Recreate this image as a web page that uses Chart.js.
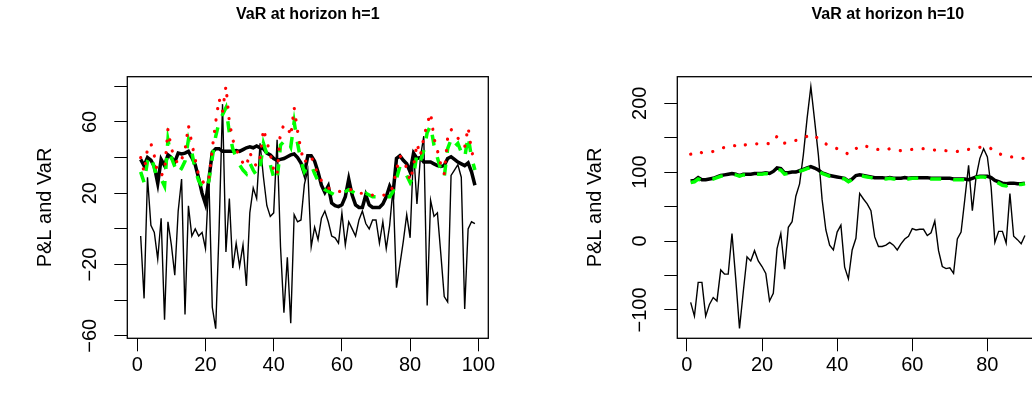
<!DOCTYPE html>
<html>
<head>
<meta charset="utf-8">
<script src="https://cdn.jsdelivr.net/npm/chart.js@4.4.0/dist/chart.umd.min.js"></script>
<style>
  html, body { margin: 0; padding: 0; background: #fff; }
  body { width: 1032px; height: 403px; overflow: hidden; position: relative; }
  .panel { position: absolute; top: 0; width: 550px; height: 403px; }
</style>
</head>
<body>
<div class="panel" style="left:0"><canvas id="c1" width="550" height="403"></canvas></div>
<div class="panel" style="left:550px"><canvas id="c2" width="550" height="403"></canvas></div>
<script>
const FONT = '"Liberation Sans", Arial, Helvetica, sans-serif';
const TICK = 13;

// --- horizon h=1 (99 days) ---
const pnl1 = [-4, -39, 29, 2, -2, -17, 6, -51, 4, -9,
  -26, 10, 28, -48, 13, -4, 0, -4, -2, -11,
  28, -44, -56, 0, 70, -13, 17, -22, -8, -21,
  -9, -32, 9, 23, 17, 48, 29, 13, 7, 9,
  50, -10, -47, -16, -53, 8, 4, 5, 25, 33,
  -10, 1, -6, 6, 10, 4, -4, -5, -8, 9,
  -9, 4, 0, -4, 5, 10, 3, 0, 5, 5,
  -8, 4, -11, 2, 23, -33, -20, -7, 8, -5,
  44, 14, 40, 52, -43, 16, 7, 9, -14, -38,
  -41, 30, 33, 36, 29, -45, 0, 4, 3];
const thick1 = [39, 35.5, 40, 38.5, 35, 25.5, 39, 35.5, 41.5, 40,
  37.5, 42.5, 42, 42.5, 43.5, 40, 36, 28.5, 20, 14,
  28, 43, 45, 45, 43.5, 43.5, 43.5, 43.5, 44, 43.5,
  44.5, 45.5, 46, 45.5, 46.5, 45.5, 45, 42.5, 41.5, 39.5,
  38.5, 39, 39.5, 40.5, 41.5, 42, 40, 37, 31, 41,
  41, 38, 32, 24.5, 20.5, 24, 14.5, 13, 12.5, 13.5,
  18, 28, 19, 13.5, 12, 12, 19, 13.5, 12, 12,
  12, 14, 18, 24, 20, 39.5, 41, 38.5, 36.5, 32,
  42.5, 39.5, 40, 37.5, 37.5, 37.5, 36.5, 35.5, 35, 35.5,
  39.5, 40.5, 39, 37.5, 36.5, 35.5, 37, 32, 24.5];
const dash1 = [32, 26, 38, 41, 34, 28, 28, 24, 50, 40,
  35, 31, 34, 38, 50, 43, 33, 27, 24, 22,
  27, 40, 52, 60, 64, 68, 54, 45, 40, 36,
  33, 31, 37, 33, 30, 34, 48, 42, 36, 29,
  27, 47, 49, 50, 46, 60, 48, 38, 32, 35,
  36, 31, 27, 24, 22, 21, 20, 19, 19, 20,
  21, 22, 21, 20, 19, 19, 20, 19, 18, 18,
  18, 18, 18, 18, 21, 28, 35, 34, 30, 26,
  30, 42, 38, 44, 54, 58, 47, 40, 33, 29,
  45, 50, 46, 48, 43, 40, 52, 40, 33];
const dot1 = [40, 32, 45, 48, 41, 31, 30, 32, 56, 45,
  40, 36, 39, 44, 58, 48, 39, 30, 27, 25,
  28, 45, 60, 73, 66, 80, 60, 50, 45, 40,
  37, 35, 43, 38, 35, 40, 56, 49, 42, 33,
  30, 55, 58, 58, 52, 68, 55, 44, 37, 40,
  41, 35, 31, 27, 24, 23, 22, 21, 21, 21,
  22, 22, 22, 21, 20, 20, 20, 19, 19, 19,
  19, 19, 19, 20, 24, 33, 41, 39, 34, 27,
  35, 48, 41, 51, 59, 65, 51, 44, 36, 31,
  51, 56, 52, 51, 48, 46, 57, 44, 37];
const xTicks1 = [0, 20, 40, 60, 80, 100];
const yTicks1 = [-60, -40, -20, 0, 20, 40, 60, 80];
const yLabels1 = [-60, -20, 20, 60];

// --- horizon h=10 (90 windows) ---
const pnl10 = [-89, -109, -60, -60, -109, -92, -82, -87, -42, -48,
  -48, 11, -55, -127, -74, -23, -29, -14, -29, -37,
  -47, -87, -76, -11, 11, -41, 20, 28, 65, 83,
  125, 178, 224, 175, 125, 60, 16, -6, -13, 13,
  23, -38, -55, -13, 4, 69, 61, 54, 44, 6,
  -8, -8, -6, -2, -6, -13, -4, 3, 7, 18,
  16, 17, 17, 8, 12, 29, -14, -37, -40, -39,
  -47, 3, 13, 61, 110, 44, 93, 120, 134, 122,
  78, -2, 14, 14, -3, 69, 7, 2, -4, 8];
const thick10 = [87, 88, 92, 89, 89, 90, 91, 93, 95, 96,
  97, 98, 97, 95, 97, 97, 97, 98, 98, 98,
  99, 98, 101, 106, 105, 99, 99, 100, 100, 102,
  104, 106, 108, 106, 103, 99, 97, 95, 94, 93,
  92, 91, 87, 90, 95, 96, 95, 94, 93, 92,
  92, 92, 91, 92, 91, 91, 91, 92, 91, 92,
  92, 92, 92, 92, 91, 91, 91, 91, 91, 91,
  90, 90, 90, 90, 89, 91, 93, 94, 94, 94,
  92, 88, 86, 84, 83, 84, 84, 83, 83, 84];
const dash10 = [85, 86, 90, 88, 88, 89, 90, 92, 94, 95,
  96, 97, 96, 94, 96, 96, 96, 97, 97, 97,
  98, 97, 100, 104, 103, 97, 98, 98, 99, 101,
  103, 105, 107, 105, 102, 98, 96, 94, 93, 92,
  91, 90, 86, 89, 94, 96, 94, 93, 92, 91,
  91, 91, 90, 91, 90, 90, 90, 91, 90, 91,
  91, 91, 91, 91, 90, 90, 90, 90, 90, 90,
  89, 89, 89, 89, 88, 90, 92, 93, 93, 92,
  90, 87, 84, 81, 80, 83, 83, 82, 82, 83];
const dot10 = [126, 127, 130, 128, 128, 129, 130, 132, 134, 136,
  137, 139, 138, 136, 139, 140, 140, 141, 141, 141,
  142, 141, 145, 152, 150, 142, 143, 144, 146, 148,
  150, 152, 155, 152, 149, 145, 141, 138, 136, 134,
  132, 129, 126, 129, 134, 138, 139, 137, 135, 133,
  133, 133, 132, 134, 133, 132, 131, 132, 132, 133,
  133, 134, 134, 134, 133, 132, 132, 132, 131, 131,
  130, 130, 131, 133, 133, 134, 135, 136, 137, 137,
  134, 129, 127, 125, 123, 122, 122, 121, 120, 120];
const xTicks10 = [0, 20, 40, 60, 80];
const yTicks10 = [-100, -50, 0, 50, 100, 150, 200];
const yLabels10 = [-100, 0, 100, 200];

const fmt = v => (v < 0 ? '\u2212' + Math.abs(v) : String(v));
const pts = arr => arr.map((y, i) => ({ x: i + 1, y }));

function textWidth(s) {
  const ctx = document.createElement('canvas').getContext('2d');
  ctx.font = '20px ' + FONT;
  return ctx.measureText(s).width;
}

// box round the plot region and the main title, R style
const rFrame = {
  id: 'rFrame',
  afterDatasetsDraw(chart) {
    const a = chart.chartArea, ctx = chart.ctx;
    ctx.save();
    ctx.strokeStyle = '#000';
    ctx.lineWidth = 1.3;
    ctx.strokeRect(a.left, a.top, a.right - a.left, a.bottom - a.top);
    ctx.restore();
  },
  afterDraw(chart, args, opts) {
    const a = chart.chartArea, ctx = chart.ctx;
    ctx.save();
    ctx.fillStyle = '#000';
    ctx.font = 'bold 16px ' + FONT;
    ctx.textAlign = 'center';
    ctx.textBaseline = 'middle';
    ctx.fillText(opts.title, (a.left + a.right) / 2 + opts.shift, 15);
    ctx.restore();
  }
};

function panel(id, title, shift, pnl, thick, dash, dot, xr, yr, xTicks, yTicks, yLabels) {
  const widest = Math.max(...yLabels.map(v => textWidth(fmt(v))));
  const axisGrid = { drawOnChartArea: false, drawTicks: true, tickLength: TICK, color: '#000', lineWidth: 1 };
  return new Chart(document.getElementById(id), {
    type: 'line',
    data: {
      datasets: [
        { data: pts(dot), borderColor: '#ff0000', borderWidth: 3.2, borderDash: [0.1, 11.4], borderCapStyle: 'round' },
        { data: pts(dash), borderColor: '#00ff00', borderWidth: 3.5, borderDash: [11, 12] },
        { data: pts(thick), borderColor: '#000', borderWidth: 3.5 },
        { data: pts(pnl), borderColor: '#000', borderWidth: 1.4 }
      ]
    },
    options: {
      responsive: false,
      animation: false,
      events: [],
      layout: { padding: { top: 76.7, right: 61.7, bottom: 0, left: 0 } },
      elements: { point: { radius: 0 }, line: { tension: 0, fill: false } },
      plugins: { legend: { display: false }, tooltip: { enabled: false }, rFrame: { title, shift } },
      scales: {
        x: {
          type: 'linear', min: xr[0], max: xr[1],
          afterBuildTicks: s => { s.ticks = xTicks.map(v => ({ value: v })); },
          afterFit: s => { s.height = 64.7; },
          grid: axisGrid,
          border: { display: false },
          ticks: { color: '#000', font: { size: 20 }, padding: 2, autoSkip: false, maxRotation: 0, callback: v => fmt(v) }
        },
        y: {
          type: 'linear', min: yr[0], max: yr[1],
          afterBuildTicks: s => { s.ticks = yTicks.map(v => ({ value: v })); },
          afterFit: s => { s.width = 127.3; },
          grid: axisGrid,
          border: { display: false },
          ticks: {
            color: '#000', font: { size: 20 }, autoSkip: false,
            minRotation: 90, maxRotation: 90, crossAlign: 'center',
            padding: 37 - TICK - widest / 2,
            callback: v => (yLabels.includes(v) ? fmt(v) : '')
          },
          title: { display: true, text: 'P&L and VaR', color: '#000', font: { size: 20 }, padding: { top: 33, bottom: 0 } }
        }
      }
    },
    plugins: [rFrame]
  });
}

Chart.defaults.font.family = FONT;
Chart.defaults.color = '#000';

panel('c1', 'VaR at horizon h=1', 0, pnl1, thick1, dash1, dot1, [-2.92, 102.92], [-61.4, 85.4], xTicks1, yTicks1, yLabels1);
panel('c2', 'VaR at horizon h=10', 30, pnl10, thick10, dash10, dot10, [-2.56, 93.56], [-141.2, 238.5], xTicks10, yTicks10, yLabels10);
</script>
</body>
</html>
